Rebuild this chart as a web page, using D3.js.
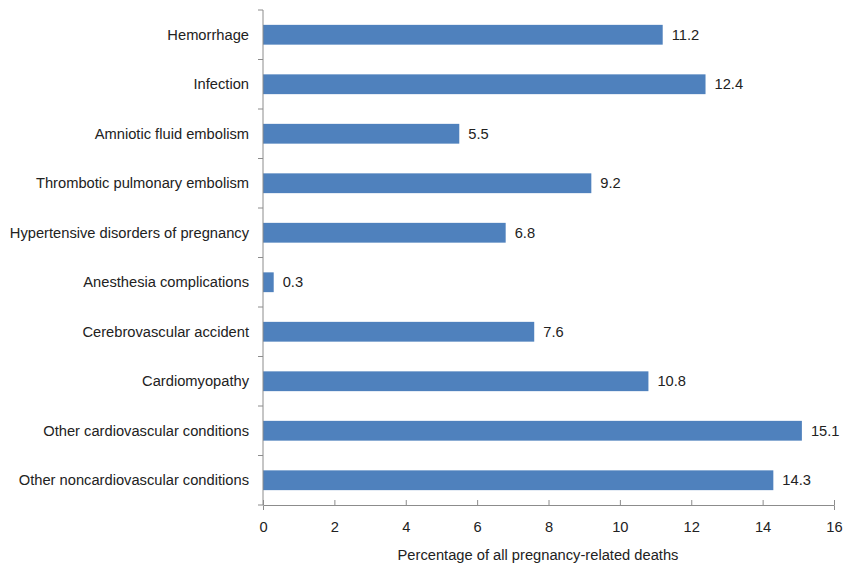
<!DOCTYPE html>
<html>
<head>
<meta charset="utf-8">
<script src="https://cdn.jsdelivr.net/npm/d3@7"></script>
<style>
  body { margin: 0; background: #fff; }
  text { font-family: 'Liberation Sans', Arial, sans-serif; fill: #222; }
</style>
</head>
<body>
<div id="chart"></div>
<script>
const chartWidth = 844
const chartHeight = 569
const barColor = '#4f81bd'
const axisColor = '#8c8c8c'
const fontSize = '14.7px'

const causes = [
  'Hemorrhage',
  'Infection',
  'Amniotic fluid embolism',
  'Thrombotic pulmonary embolism',
  'Hypertensive disorders of pregnancy',
  'Anesthesia complications',
  'Cerebrovascular accident',
  'Cardiomyopathy',
  'Other cardiovascular conditions',
  'Other noncardiovascular conditions',
]
const percents = [11.2, 12.4, 5.5, 9.2, 6.8, 0.3, 7.6, 10.8, 15.1, 14.3]
const xTicks = [0, 2, 4, 6, 8, 10, 12, 14, 16]
const xTitle = 'Percentage of all pregnancy-related deaths'

const margin = { top: 10, right: 10, bottom: 64, left: 263 }

const svg = d3
  .select('#chart')
  .append('svg')
  .attr('width', chartWidth)
  .attr('height', chartHeight)

const x = d3.scaleLinear().domain([0, 16]).range([margin.left, 834])
const y = d3
  .scaleBand()
  .domain(causes)
  .range([margin.top, chartHeight - margin.bottom])
  .paddingInner(0.6)
  .paddingOuter(0.3)

const data = causes.map((c, i) => ({ cause: c, val: percents[i] }))

// 長條
svg
  .selectAll('rect.bar')
  .data(data)
  .enter()
  .append('rect')
  .attr('class', 'bar')
  .attr('x', x(0))
  .attr('y', d => y(d.cause))
  .attr('width', d => x(d.val) - x(0))
  .attr('height', y.bandwidth())
  .attr('fill', barColor)

// 數值標籤
svg
  .selectAll('text.val')
  .data(data)
  .enter()
  .append('text')
  .attr('class', 'val')
  .attr('x', d => x(d.val) + 9)
  .attr('y', d => y(d.cause) + y.bandwidth() / 2)
  .attr('dy', '0.35em')
  .style('font-size', fontSize)
  .text(d => d.val)

// x 軸
const xAxis = svg
  .append('g')
  .attr('transform', `translate(0,${chartHeight - margin.bottom})`)
  .call(d3.axisBottom(x).tickValues(xTicks).tickSize(5).tickPadding(12))
xAxis.select('.domain').attr('stroke', axisColor)
xAxis.selectAll('.tick line').attr('stroke', axisColor).attr('transform', 'translate(0,-5)')
xAxis
  .selectAll('.tick text')
  .style('font-size', fontSize)
  .style('font-family', "'Liberation Sans', Arial, sans-serif")
  .attr('fill', '#222')

// y 軸 (刻度在類別之間)
const yAxis = svg.append('g').attr('transform', `translate(${margin.left},0)`)
yAxis
  .append('line')
  .attr('y1', margin.top)
  .attr('y2', chartHeight - margin.bottom)
  .attr('stroke', axisColor)
const step = y.step()
const boundaries = d3.range(causes.length + 1).map(i => margin.top + i * step)
yAxis
  .selectAll('line.tk')
  .data(boundaries)
  .enter()
  .append('line')
  .attr('class', 'tk')
  .attr('x1', -5)
  .attr('x2', 0)
  .attr('y1', d => d)
  .attr('y2', d => d)
  .attr('stroke', axisColor)
yAxis
  .selectAll('text')
  .data(causes)
  .enter()
  .append('text')
  .attr('x', -14)
  .attr('y', d => y(d) + y.bandwidth() / 2)
  .attr('dy', '0.35em')
  .attr('text-anchor', 'end')
  .style('font-size', fontSize)
  .text(d => d)

// 軸標題
svg
  .append('text')
  .attr('x', 538)
  .attr('y', 555)
  .attr('dy', '0.35em')
  .attr('text-anchor', 'middle')
  .style('font-size', fontSize)
  .text(xTitle)
</script>
</body>
</html>
